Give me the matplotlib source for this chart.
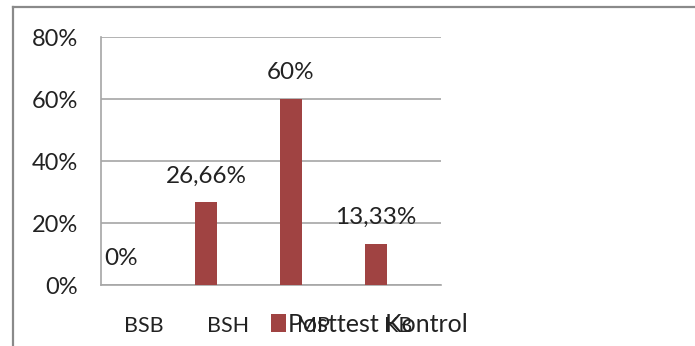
import matplotlib.pyplot as plt
from matplotlib.lines import Line2D
import numpy as np

categories = ["BSB", "BSH", "MP", "KB"]
values = [0.0, 26.66, 60.0, 13.33]
value_labels = ["0%", "26,66%", "60%", "13,33%"]
series_name = "Posttest Kontrol"
yticks = [0, 20, 40, 60, 80]

plt.rcParams['font.family'] = ['Lato', 'DejaVu Sans']

W, H = 695, 346
fig = plt.figure(figsize=(W / 100, H / 100), dpi=100)

# outer chart frame (only left and top edges visible)
fig.add_artist(Line2D([13 / W, 13 / W], [0, 1 - 7 / H], color='#8a8a8a', lw=1.6))
fig.add_artist(Line2D([13 / W, 1], [1 - 7 / H, 1 - 7 / H], color='#8a8a8a', lw=1.6))

ax = fig.add_axes([101 / W, 61 / H, 340 / W, 248 / H])
x = np.arange(len(categories))
bar_x = x - 0.265
bars = ax.bar(bar_x, values, width=0.27, color='#a04342', label=series_name, zorder=3)

for bx, v, lab in zip(bar_x, values, value_labels):
    ax.annotate(lab, (bx, v), xytext=(0, 19), textcoords='offset points',
                ha='center', va='center', fontsize=17.5, color='#222222')

ax.set_xlim(-0.5, len(categories) - 0.5)
ax.set_ylim(0, 80)
ax.set_yticks(yticks)
ax.set_yticklabels([f"{t}%" for t in yticks], fontsize=17, color='#222222')
ax.set_xticks(x)
ax.set_xticklabels(categories, fontsize=15.5, color='#222222')
ax.tick_params(axis='both', length=0)
ax.tick_params(axis='y', pad=16.5)
ax.tick_params(axis='x', pad=22)
ax.grid(axis='y', color='#a6a6a6', lw=1.2, zorder=0)
for s in ['top', 'right']:
    ax.spines[s].set_visible(False)
for s in ['left', 'bottom']:
    ax.spines[s].set_color('#a6a6a6')
    ax.spines[s].set_linewidth(1.2)

fig.legend(handles=[bars], labels=[series_name], loc='center left',
           bbox_to_anchor=(258 / W, 1 - 324 / H), frameon=False,
           fontsize=18, handlelength=0.6, handleheight=0.75, handletextpad=0.1,
           borderpad=0, labelcolor='#222222')

fig.savefig("out.png", dpi=100)
